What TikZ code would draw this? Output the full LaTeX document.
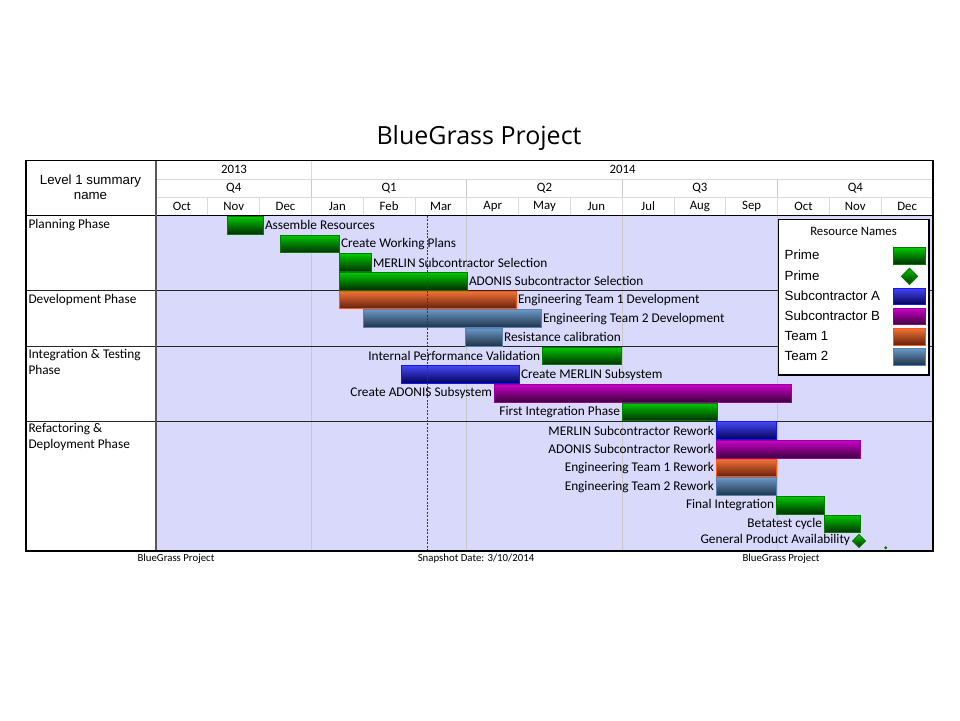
\documentclass[tikz,border=0pt]{standalone}
\usepackage{fontspec}
\setmainfont{Carlito}
\newfontfamily\arialfont{Liberation Sans}
\newfontfamily\titlefont{Open Sans}
\usepackage{tikz}

% Resource colours
\definecolor{primetop}{RGB}{0,200,0}
\definecolor{primebot}{RGB}{0,45,0}
\definecolor{primeline}{RGB}{0,125,0}
\definecolor{subAtop}{RGB}{70,70,240}
\definecolor{subAbot}{RGB}{0,0,90}
\definecolor{subAline}{RGB}{20,20,255}
\definecolor{subBtop}{RGB}{200,0,200}
\definecolor{subBbot}{RGB}{60,0,60}
\definecolor{subBline}{RGB}{150,0,150}
\definecolor{teamAtop}{RGB}{240,115,55}
\definecolor{teamAbot}{RGB}{100,30,10}
\definecolor{teamAline}{RGB}{255,85,20}
\definecolor{teamBtop}{RGB}{105,150,195}
\definecolor{teamBbot}{RGB}{30,50,70}
\definecolor{teamBline}{RGB}{85,130,180}
\definecolor{chartbg}{RGB}{217,217,252}
\definecolor{gridgray}{RGB}{200,200,200}
\definecolor{headgray}{RGB}{218,218,218}
\definecolor{snapblue}{RGB}{30,30,255}

\tikzset{
    resbar/.style={draw=#1line, top color=#1top, bottom color=#1bot, line width=1pt},
    tasklabel/.style={font=\fontsize{13.3}{16}\selectfont, inner sep=1.8pt},
    headlabel/.style={font=\fontsize{12.8}{15}\selectfont, inner sep=0pt},
    footlabel/.style={font=\fontsize{10.8}{13}\selectfont, inner sep=0pt},
    legendlabel/.style={font=\arialfont\fontsize{13.3}{16}\selectfont, anchor=west, inner sep=0pt}
}

\begin{document}
\begin{tikzpicture}[x=1pt, y=-1pt]
        \useasboundingbox (0,0) rectangle (960,720);

        % Title
        \node[font=\titlefont\fontsize{25}{30}\selectfont, anchor=base, inner sep=0pt] (title) at (479,144) {BlueGrass Project};

        % Chart background and quarter grid
        \fill[chartbg] (156,216) rectangle (933,551);
        \foreach \i in {1,...,4} {
            \pgfmathsetmacro{\pos}{156 + 3*\i*51.8}
            \draw[gridgray, line width=1.2pt] (\pos,179.5) -- (\pos,551);
        }

        % Phase separators
        \foreach \r in {4,7,11} {
            \pgfmathsetmacro{\pos}{216 + \r*18.67}
            \draw[black!85, line width=1.1pt] (26,\pos) -- (933,\pos);
        }

        % Phase names
        \node[tasklabel, anchor=west] (ph1) at (26.5,225.3) {Planning Phase};
        \node[tasklabel, anchor=west] (ph2) at (26.5,299.5) {Development Phase};
        \node[tasklabel, anchor=north west, align=left] (ph3) at (26.5,347) {Integration \& Testing\\Phase};
        \node[tasklabel, anchor=north west, align=left] (ph4) at (26.5,421.5) {Refactoring \&\\Deployment Phase};

        % Task bars with their labels (R = label right of bar, L = left)
        \foreach \row/\xs/\xe/\res/\txt/\side in {
            0/227/263/prime/Assemble Resources/R,
            1/280/339/prime/Create Working Plans/R,
            2/339/371/prime/MERLIN Subcontractor Selection/R,
            3/339/467/prime/ADONIS Subcontractor Selection/R,
            4/339/516/teamA/Engineering Team 1 Development/R,
            5/363/541/teamB/Engineering Team 2 Development/R,
            6/465/502/teamB/Resistance calibration/R,
            7/542/621/prime/Internal Performance Validation/L,
            8/401/519/subA/Create MERLIN Subsystem/R,
            9/494/791/subB/Create ADONIS Subsystem/L,
            10/622/717/prime/First Integration Phase/L,
            11/716/776/subA/MERLIN Subcontractor Rework/L,
            12/716/860/subB/ADONIS Subcontractor Rework/L,
            13/716/776/teamA/Engineering Team 1 Rework/L,
            14/716/776/teamB/Engineering Team 2 Rework/L,
            15/776/824/prime/Final Integration/L,
            16/824/860/prime/Betatest cycle/L} {
            \pgfmathsetmacro{\ytop}{216 + \row*18.67 + 0.5}
            \pgfmathsetmacro{\ybot}{216 + (\row+1)*18.67 - 0.5}
            \pgfmathsetmacro{\ymid}{216 + (\row+0.5)*18.67}
            \draw[resbar=\res] (\xs,\ytop) rectangle (\xe,\ybot);
            \if\side R
                \node[tasklabel, anchor=west] (task\row) at (\xe,\ymid) {\txt};
            \else
                \node[tasklabel, anchor=east] (task\row) at (\xs,\ymid) {\txt};
            \fi
        }

        % Milestone
        \draw[resbar=prime] (859,534.5) -- (865.5,541) -- (859,547.5) -- (852.5,541) -- cycle;
        \node[tasklabel, anchor=east] (task17) at (852,540) {General Product Availability};
        \fill[primeline] (885.7,547.7) circle (1.6pt);

        % Snapshot date
        \draw[snapblue, line width=1.2pt, dash pattern=on 2pt off 1.4pt] (427.3,216) -- (427.3,551);

        % Header grid
        \draw[headgray, line width=1pt] (156,179.5) -- (933,179.5);
        \draw[headgray, line width=1pt] (156,197.5) -- (933,197.5);
        \draw[headgray, line width=1pt] (311.4,160.5) -- (311.4,179.5);
        \foreach \i in {1,...,14} {
            \pgfmathsetmacro{\pos}{156 + \i*51.8}
            \draw[headgray, line width=1pt] (\pos,197.5) -- (\pos,215);
        }

        % Years, quarters and months
        \node[headlabel] (y2013) at (234,169.5) {2013};
        \node[headlabel] (y2014) at (622.5,169.5) {2014};
        \foreach \q [count=\i from 0] in {Q4,Q1,Q2,Q3,Q4} {
            \pgfmathsetmacro{\pos}{156 + (3*\i+1.5)*51.8}
            \node[headlabel] (q\i) at (\pos,188.5) {\q};
        }
        \foreach \m [count=\i from 0] in {Oct,Nov,Dec,Jan,Feb,Mar,Apr,May,Jun,Jul,Aug,Sep,Oct,Nov,Dec} {
            \pgfmathsetmacro{\pos}{156 + (\i+0.5)*51.8}
            \node[headlabel] (m\i) at (\pos,206.5) {\m};
        }
        \node[font=\arialfont\fontsize{13.3}{15}\selectfont, align=center, inner sep=0pt] (level) at (90.5,187.5) {Level 1 summary\\name};

        % Frame
        \draw[black, line width=1.1pt] (26,215.5) -- (933,215.5);
        \draw[black!65, line width=1.6pt] (156,160.5) -- (156,551);
        \draw[black, line width=1.1pt] (26,160.5) rectangle (933,551);

        % Legend
        \draw[black, line width=1.1pt, fill=white] (778.5,219.5) rectangle (929,375);
        \node[font=\fontsize{12.8}{15}\selectfont, inner sep=0pt] (legtitle) at (853.5,231) {Resource Names};
        \foreach \i/\name/\res in {0/Prime/prime, 2/Subcontractor A/subA, 3/Subcontractor B/subB, 4/Team 1/teamA, 5/Team 2/teamB} {
            \pgfmathsetmacro{\pos}{256 + \i*20.2}
            \node[legendlabel] (leg\i) at (784.5,\pos-0.8) {\name};
            \draw[resbar=\res] (893.5,\pos-8.3) rectangle (925.5,\pos+8.3);
        }
        \node[legendlabel] (leg1) at (784.5,275.6) {Prime};
        \draw[resbar=prime] (909.5,268.4) -- (917.5,276.4) -- (909.5,284.4) -- (901.5,276.4) -- cycle;

        % Footer
        \node[footlabel] (foot1) at (176,559) {BlueGrass Project};
        \node[footlabel] (foot2) at (476,559) {Snapshot Date: 3/10/2014};
        \node[footlabel] (foot3) at (781,559) {BlueGrass Project};
\end{tikzpicture}
\end{document}
